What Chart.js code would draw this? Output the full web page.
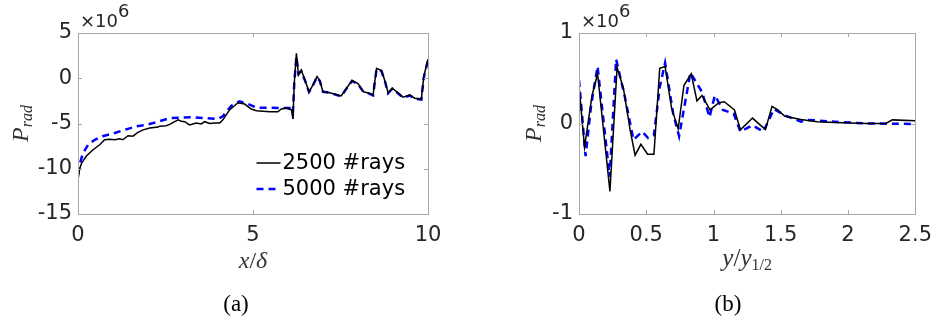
<!DOCTYPE html>
<html>
<head>
<meta charset="utf-8">
<script src="https://cdn.jsdelivr.net/npm/chart.js@4"></script>
<style>
  body { margin: 0; background: #fff; }
  #wrap { position: relative; width: 941px; height: 321px; overflow: hidden; }
  .box { position: absolute; top: 0; height: 321px; }
</style>
</head>
<body>
<div id="wrap">
  <div class="box" style="left:0;width:470px"><canvas id="chartA" width="470" height="321"></canvas></div>
  <div class="box" style="left:470px;width:471px"><canvas id="chartB" width="471" height="321"></canvas></div>
</div>
<script>
// (a) P_rad along x/delta, values in units of 1e6
const xA2500 = [0, 0.05, 0.1, 0.24, 0.43, 0.62, 0.76, 0.9, 1.05, 1.19, 1.28, 1.43, 1.57, 1.7, 1.86, 2.05, 2.29, 2.33, 2.52, 2.62, 2.71, 2.86, 2.95, 3.05, 3.19, 3.38, 3.52, 3.62, 3.76, 3.9, 4.05, 4.14, 4.33, 4.57, 4.76, 4.95, 5.1, 5.48, 5.71, 5.81, 5.95, 6.1, 6.14, 6.18, 6.24, 6.3, 6.38, 6.5, 6.6, 6.71, 6.83, 6.91, 7.0, 7.19, 7.52, 7.67, 7.83, 8.0, 8.16, 8.32, 8.43, 8.53, 8.67, 8.77, 8.86, 8.98, 9.11, 9.29, 9.48, 9.62, 9.81, 9.88, 10];
const yA2500 = [-11.2, -10.0, -9.4, -8.6, -7.9, -7.35, -6.8, -6.75, -6.8, -6.7, -6.8, -6.35, -6.4, -6.0, -5.7, -5.5, -5.4, -5.3, -5.25, -5.1, -4.9, -4.6, -4.75, -4.8, -5.15, -4.95, -5.05, -4.8, -5.0, -4.95, -4.95, -4.6, -3.5, -2.7, -2.85, -3.4, -3.6, -3.7, -3.7, -3.4, -3.3, -3.5, -4.5, -0.5, 2.75, 0.35, 0.9, -0.4, -1.5, -0.75, 0.2, -0.3, -1.5, -1.6, -1.95, -1.1, -0.25, -0.6, -1.5, -1.65, -1.85, 1.1, 0.85, -0.3, -1.6, -1.1, -1.5, -2.1, -1.85, -2.2, -2.3, 0.2, 2.1];
const xA5000 = [0, 0.05, 0.14, 0.29, 0.48, 0.71, 1.05, 1.33, 1.67, 1.95, 2.29, 2.62, 2.95, 3.29, 3.57, 4.0, 4.14, 4.38, 4.62, 4.86, 5.1, 5.48, 5.8, 6.1, 6.14, 6.18, 6.24, 6.3, 6.38, 6.5, 6.6, 6.71, 6.83, 6.91, 7.0, 7.19, 7.52, 7.67, 7.83, 8.0, 8.16, 8.32, 8.43, 8.53, 8.67, 8.77, 8.86, 8.98, 9.11, 9.29, 9.48, 9.62, 9.81, 9.88, 10];
const yA5000 = [-10.6, -9.5, -8.3, -7.35, -6.8, -6.4, -6.05, -5.7, -5.3, -5.15, -4.8, -4.4, -4.35, -4.3, -4.4, -4.5, -4.2, -3.05, -2.55, -2.85, -3.25, -3.25, -3.3, -3.3, -3.8, -0.5, 2.4, 0.5, 0.8, -0.4, -1.5, -0.8, 0.15, -0.3, -1.5, -1.6, -2.0, -1.15, -0.3, -0.65, -1.55, -1.7, -1.9, 1.0, 0.8, -0.35, -1.65, -1.15, -1.55, -2.15, -1.9, -2.25, -2.35, 0.1, 2.0];

// (b) P_rad along y/y_1/2, values in units of 1e6
const xB2500 = [0, 0.041, 0.097, 0.138, 0.23, 0.283, 0.33, 0.38, 0.417, 0.46, 0.51, 0.557, 0.6, 0.64, 0.688, 0.737, 0.78, 0.834, 0.877, 0.914, 0.974, 1.04, 1.08, 1.156, 1.2, 1.29, 1.35, 1.386, 1.435, 1.478, 1.53, 1.65, 1.77, 1.9, 2.14, 2.28, 2.33, 2.5];
const yB2500 = [0.42, -0.26, 0.31, 0.55, -0.75, 0.62, 0.39, -0.07, -0.35, -0.23, -0.34, -0.34, 0.61, 0.63, 0.17, -0.06, 0.42, 0.55, 0.25, 0.31, 0.15, 0.23, 0.24, 0.15, -0.07, 0.06, -0.02, -0.065, 0.19, 0.15, 0.08, 0.045, 0.02, 0.01, 0.0, 0.0, 0.04, 0.03];
const xB5000 = [0, 0.049, 0.09, 0.138, 0.228, 0.276, 0.34, 0.405, 0.47, 0.514, 0.557, 0.6, 0.64, 0.7, 0.744, 0.828, 0.914, 0.97, 1.01, 1.07, 1.15, 1.2, 1.29, 1.37, 1.45, 1.53, 1.65, 1.7, 1.9, 2.14, 2.5];
const yB5000 = [0.48, -0.36, 0.2, 0.63, -0.59, 0.71, 0.3, -0.18, -0.09, -0.16, -0.13, 0.4, 0.67, 0.11, -0.14, 0.56, 0.35, 0.07, 0.31, 0.15, 0.11, -0.09, -0.02, -0.09, 0.16, 0.09, 0.02, 0.04, 0.02, 0.0, -0.005];

const legendLabels = ['2500 #rays', '5000 #rays'];

const tickFont = { family: 'DejaVu Sans', size: 21 };
const textColor = '#262626';
const boxColor = '#a8a8a8';

function toPoints(xs, ys) {
    return xs.map((x, i) => ({ x: x, y: ys[i] }));
}

// draw text pieces (for math labels) centred on cx
function drawRuns(ctx, runs, cx, cy) {
    let total = 0;
    runs.forEach(r => { ctx.font = r.font; total += ctx.measureText(r.t).width; });
    let x = cx - total / 2;
    runs.forEach(r => {
        ctx.font = r.font;
        ctx.fillText(r.t, x, cy + (r.dy || 0));
        x += ctx.measureText(r.t).width;
    });
}

const it = s => "italic " + s + "px 'Liberation Serif'";
const up = s => s + "px 'Liberation Serif'";

// box, inside ticks, titles, legend, exponent
const decorPlugin = {
    id: 'decor',
    afterDraw(chart, args, opts) {
        const ctx = chart.ctx;
        const a = chart.chartArea;
        const sx = chart.scales.x, sy = chart.scales.y;
        ctx.save();
        ctx.strokeStyle = boxColor;
        ctx.lineWidth = 1;
        ctx.strokeRect(Math.round(a.left) + 0.5, Math.round(a.top) + 0.5,
            Math.round(a.right - a.left), Math.round(a.bottom - a.top));
        const tl = 4;
        ctx.beginPath();
        sx.ticks.forEach(t => {
            const px = Math.round(sx.getPixelForValue(t.value)) + 0.5;
            ctx.moveTo(px, a.bottom); ctx.lineTo(px, a.bottom - tl);
            ctx.moveTo(px, a.top); ctx.lineTo(px, a.top + tl);
        });
        sy.ticks.forEach(t => {
            const py = Math.round(sy.getPixelForValue(t.value)) + 0.5;
            ctx.moveTo(a.left, py); ctx.lineTo(a.left + tl, py);
            ctx.moveTo(a.right, py); ctx.lineTo(a.right - tl, py);
        });
        ctx.stroke();

        // exponent label
        ctx.fillStyle = textColor;
        ctx.textAlign = 'left';
        ctx.textBaseline = 'alphabetic';
        ctx.font = "18px 'DejaVu Sans'";
        const ex = a.left + 2;
        ctx.fillText('\u00d710', ex, 27);
        const w = ctx.measureText('\u00d710').width;
        ctx.fillText('6', ex + w, 17);

        // axis titles
        ctx.fillStyle = '#333';
        const cx = (a.left + a.right) / 2;
        drawRuns(ctx, opts.xTitle, cx, opts.xTitleY);
        ctx.save();
        ctx.translate(opts.yTitleX, (a.top + a.bottom) / 2);
        ctx.rotate(-Math.PI / 2);
        drawRuns(ctx, [{ t: 'P', font: it(24) }, { t: 'rad', font: it(16), dy: 4 }], 0, 0);
        ctx.restore();

        // caption
        ctx.fillStyle = '#000';
        drawRuns(ctx, [{ t: opts.caption, font: up(23) }], opts.captionX, 311);

        // legend
        if (opts.legend) {
            const lx = sx.getPixelForValue(opts.legend.x);
            const rows = [opts.legend.y1, opts.legend.y2];
            chart.data.datasets.forEach((ds, i) => {
                const y = rows[i];
                ctx.save();
                ctx.strokeStyle = ds.borderColor;
                ctx.lineWidth = ds.borderWidth;
                ctx.setLineDash(ds.borderDash || []);
                ctx.beginPath();
                ctx.moveTo(lx, y); ctx.lineTo(lx + 24, y);
                ctx.stroke();
                ctx.restore();
                ctx.fillStyle = '#000';
                ctx.font = "21px 'DejaVu Sans'";
                ctx.textAlign = 'left';
                ctx.textBaseline = 'middle';
                ctx.fillText(ds.label, lx + 26, y + 1);
            });
        }
        ctx.restore();
    }
};

function makeChart(id, sets, xr, yr, layout, decor) {
    return new Chart(document.getElementById(id), {
        type: 'line',
        data: {
            datasets: [
                {
                    label: legendLabels[0],
                    data: toPoints(sets[0], sets[1]),
                    borderColor: '#000000',
                    borderWidth: 1.5,
                    pointRadius: 0,
                    tension: 0,
                    fill: false
                },
                {
                    label: legendLabels[1],
                    data: toPoints(sets[2], sets[3]),
                    borderColor: '#0000ff',
                    borderWidth: 2.5,
                    borderDash: [7, 5],
                    pointRadius: 0,
                    tension: 0,
                    fill: false
                }
            ]
        },
        options: {
            responsive: false,
            animation: false,
            layout: { padding: layout.padding },
            plugins: {
                legend: { display: false },
                tooltip: { enabled: false },
                decor: decor
            },
            scales: {
                x: {
                    type: 'linear',
                    min: xr[0], max: xr[1],
                    grid: { display: false, drawTicks: false },
                    border: { display: false },
                    ticks: {
                        stepSize: xr[2], font: tickFont, color: textColor, padding: 9, maxRotation: 0,
                        callback: v => String(Math.round(v * 10) / 10)
                    },
                    afterFit: s => { s.height = layout.xh; }
                },
                y: {
                    type: 'linear',
                    min: yr[0], max: yr[1],
                    grid: { display: false, drawTicks: false },
                    border: { display: false },
                    ticks: {
                        stepSize: yr[2], font: tickFont, color: textColor, padding: 6,
                        callback: v => String(v)
                    },
                    afterFit: s => { s.width = layout.yw; }
                }
            }
        },
        plugins: [decorPlugin]
    });
}

makeChart('chartA', [xA2500, yA2500, xA5000, yA5000], [0, 10, 5], [-15, 5, 5],
    { padding: { left: 0, top: 33, right: 42, bottom: 0 }, yw: 78, xh: 107 },
    {
        xTitle: [{ t: 'x', font: it(24) }, { t: '/', font: up(24) }, { t: '\u03b4', font: it(24) }],
        xTitleY: 268, yTitleX: 28, caption: '(a)', captionX: 236,
        legend: { x: 5.1, y1: 163, y2: 189 }
    });

makeChart('chartB', [xB2500, yB2500, xB5000, yB5000], [0, 2.5, 0.5], [-1, 1, 1],
    { padding: { left: 0, top: 33, right: 18, bottom: 0 }, yw: 109, xh: 107 },
    {
        xTitle: [{ t: 'y', font: it(25) }, { t: '/', font: up(25) }, { t: 'y', font: it(25) },
                 { t: '1/2', font: up(16), dy: 4 }],
        xTitleY: 266, yTitleX: 71, caption: '(b)', captionX: 258
    });
</script>
</body>
</html>
